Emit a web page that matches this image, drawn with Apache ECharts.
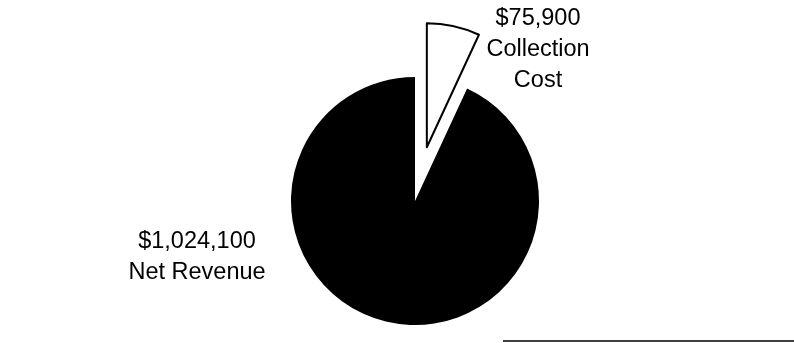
<!DOCTYPE html>
<html>
<head>
<meta charset="utf-8">
<script src="https://cdn.jsdelivr.net/npm/echarts@6/dist/echarts.min.js"></script>
<style>
  html, body { margin: 0; padding: 0; background: #fff; }
  #chart { width: 794px; height: 343px; }
</style>
</head>
<body>
<div id="chart"></div>
<script>
// Data
var categories = ['Collection Cost', 'Net Revenue'];
var labelNames = ['Collection\nCost', 'Net Revenue'];
var values = [75900, 1024100];
var sliceColors = ['#ffffff', '#000000'];
var exploded = [true, false];

var labelPos = [
  { x: 538, y: 50 },
  { x: 197, y: 257 }
];

function money(v) {
  return '$' + v.toString().replace(/\B(?=(\d{3})+(?!\d))/g, ',');
}

var pieData = categories.map(function (c, i) {
  return {
    name: c,
    value: values[i],
    selected: exploded[i],
    itemStyle: {
      color: sliceColors[i],
      borderColor: '#000',
      borderWidth: i === 0 ? 2 : 0
    }
  };
});

var labelData = categories.map(function (c, i) {
  return { name: c, value: values[i] };
});

var chart = echarts.init(document.getElementById('chart'), null, { renderer: 'canvas' });
chart.setOption({
  backgroundColor: '#ffffff',
  animation: false,
  series: [{
    type: 'pie',
    center: [415, 201],
    radius: 124,
    startAngle: 90,
    clockwise: true,
    selectedMode: 'single',
    selectedOffset: 55,
    data: pieData,
    label: { show: false },
    labelLine: { show: false },
    emphasis: { disabled: true },
    silent: true
  }, {
    type: 'pie',
    center: [415, 201],
    radius: 124,
    startAngle: 90,
    clockwise: true,
    selectedMode: false,
    avoidLabelOverlap: false,
    data: labelData,
    itemStyle: { color: 'rgba(0,0,0,0)', borderWidth: 0 },
    label: {
      show: true,
      position: 'outside',
      color: '#000',
      fontFamily: 'Liberation Sans, Arial, sans-serif',
      fontSize: 23.5,
      lineHeight: 31,
      align: 'center',
      formatter: function (p) {
        return money(p.value) + '\n' + labelNames[p.dataIndex];
      }
    },
    labelLine: { show: false },
    labelLayout: function (params) {
      var lp = labelPos[params.dataIndex];
      return { x: lp.x, y: lp.y, align: 'center', verticalAlign: 'middle' };
    },
    emphasis: { disabled: true },
    silent: true
  }],
  graphic: [{
    type: 'line',
    shape: { x1: 503, y1: 341, x2: 794, y2: 341 },
    style: { stroke: '#000', lineWidth: 1.5 },
    silent: true
  }]
});
</script>
</body>
</html>
